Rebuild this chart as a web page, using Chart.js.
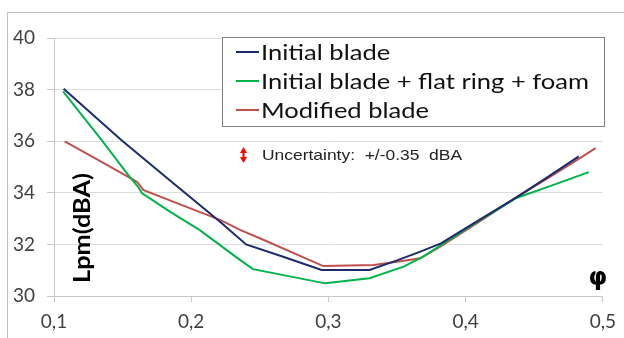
<!DOCTYPE html>
<html>
<head>
<meta charset="utf-8">
<script src="https://cdn.jsdelivr.net/npm/chart.js@4"></script>
<style>
  html, body { margin: 0; padding: 0; background: #fff; }
  #wrap { width: 624px; height: 338px; position: relative; }
</style>
</head>
<body>
<div id="wrap"><canvas id="chart" width="624" height="338"></canvas></div>
<script>
// --- DATA ---
const seriesNames = ['Initial blade', 'Initial blade + flat ring + foam', 'Modified blade'];
const seriesColors = ['#1c2a6e', '#00b34a', '#c0504d'];

const blueX = [0.107, 0.149, 0.185, 0.221, 0.240, 0.267, 0.295, 0.330, 0.350, 0.367, 0.382, 0.410, 0.438, 0.460, 0.4825];
const blueY = [38.03, 36.05, 34.46, 32.88, 32.0, 31.52, 31.01, 31.01, 31.38, 31.72, 32.04, 32.95, 33.85, 34.62, 35.41];

const greenX = [0.1066, 0.1346, 0.155, 0.161, 0.164, 0.185, 0.206, 0.234, 0.245, 0.270, 0.2976, 0.330, 0.3548, 0.369, 0.3767, 0.390, 0.410, 0.437, 0.460, 0.4898];
const greenY = [37.93, 36.05, 34.63, 34.25, 33.99, 33.25, 32.56, 31.46, 31.04, 30.78, 30.49, 30.69, 31.14, 31.53, 31.79, 32.25, 32.92, 33.8, 34.23, 34.8];

const redX = [0.1078, 0.133, 0.158, 0.161, 0.165, 0.190, 0.221, 0.2356, 0.250, 0.2963, 0.333, 0.350, 0.367, 0.3815, 0.410, 0.4377, 0.460, 0.479, 0.4947];
const redY = [35.99, 35.25, 34.5, 34.4, 34.11, 33.59, 32.95, 32.56, 32.24, 31.16, 31.2, 31.33, 31.46, 31.91, 32.88, 33.85, 34.57, 35.2, 35.73];

const xTicks = [0.1, 0.2, 0.3, 0.4, 0.5];
const yTicks = [30, 32, 34, 36, 38, 40];

const uncertaintyText = 'Uncertainty:  +/-0.35  dBA';
const yTitle = 'Lpm(dBA)';
const xTitle = 'φ';

const toPoints = (xs, ys) => xs.map((x, i) => ({ x: x, y: ys[i] }));

// draws text squeezed/stretched horizontally to a given width (original font is Calibri-like)
function fillFitted(ctx, text, x, y, width, scaleFactor) {
    const w = ctx.measureText(text).width;
    const k = scaleFactor || width / w;
    ctx.save();
    ctx.translate(x, y);
    ctx.scale(k, 1);
    ctx.fillText(text, 0, 0);
    ctx.restore();
    return k;
}

// --- PLUGINS ---
const framePlugin = {
    id: 'frame',
    beforeDraw(chart) {
        const ctx = chart.ctx;
        ctx.save();
        ctx.strokeStyle = '#c0c0c0';
        ctx.lineWidth = 1;
        ctx.strokeRect(7.5, 12.5, 700, 400);
        ctx.restore();
    }
};

const extrasPlugin = {
    id: 'extras',
    afterDraw(chart) {
        const ctx = chart.ctx;
        ctx.save();

        // legend box
        const bx = 222, by = 37, bw = 382, bh = 89;
        ctx.fillStyle = '#fff';
        ctx.fillRect(bx, by, bw, bh);
        ctx.strokeStyle = '#808080';
        ctx.lineWidth = 1;
        ctx.strokeRect(bx + 0.5, by + 0.5, bw, bh);
        ctx.font = '22px Lato';
        ctx.textBaseline = 'middle';
        ctx.textAlign = 'left';
        const rows = [52, 81, 110];
        // stretch factor taken from the longest label (328px wide in the original)
        const k = 328 / ctx.measureText(seriesNames[1]).width;
        chart.data.datasets.forEach((ds, i) => {
            ctx.strokeStyle = ds.borderColor;
            ctx.lineWidth = 2;
            ctx.beginPath();
            ctx.moveTo(236, rows[i]);
            ctx.lineTo(259, rows[i]);
            ctx.stroke();
            ctx.fillStyle = '#111';
            fillFitted(ctx, ds.label, 261, rows[i] + 1, 0, k);
        });

        // uncertainty marker
        const ax = 243.5, ay1 = 147, ay2 = 163;
        ctx.strokeStyle = '#ff0000';
        ctx.fillStyle = '#ff0000';
        ctx.lineWidth = 2;
        ctx.beginPath();
        ctx.moveTo(ax, ay1 + 3);
        ctx.lineTo(ax, ay2 - 3);
        ctx.stroke();
        ctx.beginPath();
        ctx.moveTo(ax, ay1); ctx.lineTo(ax - 3.5, ay1 + 6); ctx.lineTo(ax + 3.5, ay1 + 6); ctx.closePath();
        ctx.fill();
        ctx.beginPath();
        ctx.moveTo(ax, ay2); ctx.lineTo(ax - 3.5, ay2 - 6); ctx.lineTo(ax + 3.5, ay2 - 6); ctx.closePath();
        ctx.fill();
        ctx.fillStyle = '#222';
        ctx.font = '14.5px "Liberation Sans"';
        fillFitted(ctx, uncertaintyText, 262, 156, 200);

        // axis titles, placed inside the plot like the original
        ctx.fillStyle = '#000';
        ctx.font = 'bold 23px Lato';
        ctx.save();
        ctx.translate(83, 283);
        ctx.rotate(-Math.PI / 2);
        ctx.textAlign = 'left';
        fillFitted(ctx, yTitle, 0, 0, 110);
        ctx.restore();
        ctx.font = 'bold 24px "DejaVu Sans"';
        ctx.textAlign = 'center';
        ctx.fillText(xTitle, 598, 279);

        ctx.restore();
    }
};

// --- CHART ---
const tickFont = { family: 'Lato', size: 19 };

new Chart(document.getElementById('chart').getContext('2d'), {
    type: 'line',
    data: {
        datasets: [
            { label: seriesNames[0], data: toPoints(blueX, blueY), borderColor: seriesColors[0] },
            { label: seriesNames[1], data: toPoints(greenX, greenY), borderColor: seriesColors[1] },
            { label: seriesNames[2], data: toPoints(redX, redY), borderColor: seriesColors[2] }
        ].map(ds => Object.assign(ds, { borderWidth: 2, pointRadius: 0, tension: 0, fill: false }))
    },
    options: {
        responsive: false,
        animation: false,
        layout: { padding: { left: 0, top: 38, right: 21, bottom: 0 } },
        plugins: { legend: { display: false }, tooltip: { enabled: false } },
        scales: {
            x: {
                type: 'linear',
                min: 0.1,
                max: 0.5,
                afterBuildTicks: scale => { scale.ticks = xTicks.map(v => ({ value: v })); },
                afterFit: scale => { scale.height = 42; },
                ticks: {
                    color: '#404040',
                    font: tickFont,
                    padding: 8,
                    callback: v => (Math.round(v * 10) / 10).toFixed(1).replace('.', ',')
                },
                grid: { drawOnChartArea: false, drawTicks: true, tickLength: 6, color: '#c8c8c8' },
                border: { color: '#c8c8c8' }
            },
            y: {
                min: 30,
                max: 40,
                afterBuildTicks: scale => { scale.ticks = yTicks.map(v => ({ value: v })); },
                afterFit: scale => { scale.width = 54; },
                ticks: { color: '#404040', font: tickFont, padding: 12 },
                grid: { color: '#dcdcdc', tickLength: 7, tickColor: '#c8c8c8' },
                border: { color: '#c8c8c8' }
            }
        }
    },
    plugins: [framePlugin, extrasPlugin]
});
</script>
</body>
</html>
